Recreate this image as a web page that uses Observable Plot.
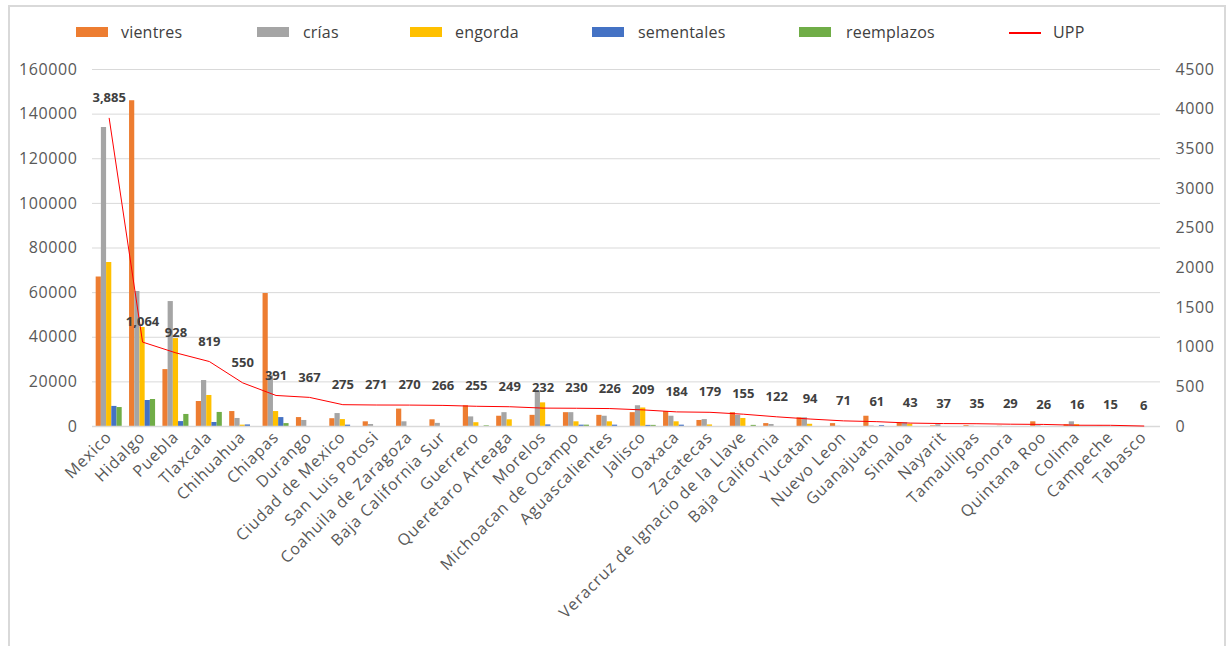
<!DOCTYPE html>
<html>
<head>
<meta charset="utf-8">
<script src="https://cdn.jsdelivr.net/npm/d3@7"></script>
<script src="https://cdn.jsdelivr.net/npm/@observablehq/plot@0.6"></script>
<style>
  html, body { margin: 0; padding: 0; background: #fff; }
  #wrap { position: relative; width: 1228px; height: 646px; overflow: hidden; font-family: "Open Sans", sans-serif; }
  #frame { position: absolute; left: 8px; top: 5px; width: 1218px; height: 660px; border: 2px solid #d9d9d9; box-sizing: border-box; }
  #legend { position: relative; height: 52px; }
  .li { position: absolute; top: 21px; font-size: 16px; color: #404040; line-height: 22px; letter-spacing: 0.2px; }
  .sw { position: absolute; top: 27px; width: 32px; height: 10px; }
  .ln { position: absolute; top: 32px; width: 32px; height: 1.5px; background: #ff0000; }
  #chart { position: relative; }
  #chart svg g[aria-label="x-axis tick label"] text { letter-spacing: 0.9px; }
  #chart svg g[aria-label="y-axis tick label"] text { letter-spacing: 0.6px; }
</style>
</head>
<body>
<div id="wrap">
  <div id="frame"></div>
  <div id="legend"></div>
  <div id="chart"></div>
</div>
<script>
const states = ["Mexico","Hidalgo","Puebla","Tlaxcala","Chihuahua","Chiapas","Durango","Ciudad de Mexico","San Luis Potosi","Coahuila de Zaragoza","Baja California Sur","Guerrero","Queretaro Arteaga","Morelos","Michoacan de Ocampo","Aguascalientes","Jalisco","Oaxaca","Zacatecas","Veracruz de Ignacio de la Llave","Baja California","Yucatan","Nuevo Leon","Guanajuato","Sinaloa","Nayarit","Tamaulipas","Sonora","Quintana Roo","Colima","Campeche","Tabasco"];

const vientres   = [67000,146000,25500,11200,6700,59600,4000,3500,2100,7800,3000,9300,4600,5000,6200,5000,6200,6700,2700,6200,1300,3900,1300,4600,1700,300,400,100,2100,800,100,0];
const crias      = [134000,60500,56000,20600,3600,22800,2700,5800,900,2100,1400,4300,6200,15500,6200,4600,9300,4600,3100,5000,900,3900,100,200,1700,800,100,0,300,2100,0,0];
const engorda    = [73500,44400,39400,13900,600,6700,0,3100,0,0,0,1700,3000,10600,2100,2100,8300,2100,700,3600,0,1000,0,0,1000,0,0,0,0,800,0,0];
const sementales = [9000,11650,2200,1800,700,4000,0,600,0,0,0,0,0,700,600,600,500,600,0,0,0,0,0,400,0,0,0,0,0,0,0,0];
const reemplazos = [8500,12100,5400,6300,0,1300,0,0,0,0,0,300,0,0,600,0,500,0,0,500,0,0,0,0,0,0,0,0,0,0,0,0];
const upp = [3885,1064,928,819,550,391,367,275,271,270,266,255,249,232,230,226,209,184,179,155,122,94,71,61,43,37,35,29,26,16,15,6];

const seriesNames = ["vientres","crías","engorda","sementales","reemplazos"];
const seriesColors = ["#ED7D31","#A5A5A5","#FFC000","#4472C4","#70AD47"];
const seriesValues = [vientres, crias, engorda, sementales, reemplazos];

const leftTicks = [0,20000,40000,60000,80000,100000,120000,140000,160000];
const rightTicks = [0,500,1000,1500,2000,2500,3000,3500,4000,4500];
const K = 160000 / 4500;

// legend
const legend = document.getElementById("legend");
const legendPos = [[76,121],[257,303],[410,455],[592,638],[799,846]];
seriesNames.forEach((n, i) => {
  const sw = document.createElement("div");
  sw.className = "sw"; sw.style.left = legendPos[i][0] + "px"; sw.style.background = seriesColors[i];
  legend.appendChild(sw);
  const t = document.createElement("div");
  t.className = "li"; t.style.left = legendPos[i][1] + "px"; t.textContent = n;
  legend.appendChild(t);
});
{
  const l = document.createElement("div"); l.className = "ln"; l.style.left = "1009px"; legend.appendChild(l);
  const t = document.createElement("div"); t.className = "li"; t.style.left = "1053px"; t.textContent = "UPP"; legend.appendChild(t);
}

const W = 1228, H = 594, mL = 92, mR = 68, mT = 17, mB = 220;
const bandW = (W - mL - mR) / states.length;
const barW = bandW * 0.78 / 5;
const pad0 = (bandW - barW * 5) / 2;

const upRows = states.map((s, i) => ({state: s, upp: upp[i]}));

const barMarks = seriesValues.map((vals, j) =>
  Plot.barY(states.map((s, i) => ({state: s, value: vals[i]})), {
    x: "state", y: "value", fill: seriesColors[j],
    insetLeft: pad0 + j * barW,
    insetRight: bandW - pad0 - (j + 1) * barW
  })
);

const chart = Plot.plot({
  width: W, height: H,
  marginLeft: mL, marginRight: mR, marginTop: mT, marginBottom: mB,
  style: {fontFamily: "'Open Sans', sans-serif", fontSize: "16px", background: "transparent"},
  x: {domain: states, padding: 0, round: false, label: null},
  y: {domain: [0, 160000], label: null},
  marks: [
    Plot.gridY(leftTicks.slice(1), {stroke: "#d9d9d9", strokeOpacity: 1, strokeWidth: 1}),
    ...barMarks,
    Plot.ruleY([0], {stroke: "#d9d9d9", strokeWidth: 1.5}),
    Plot.lineY(upRows, {x: "state", y: d => d.upp * K, stroke: "#ff0000", strokeWidth: 1}),
    Plot.text(upRows, {x: "state", y: d => d.upp * K, text: d => d3.format(",")(d.upp), dy: -20,
      fontWeight: "bold", fontSize: 13, fill: "#404040"}),
    Plot.axisY({anchor: "left", ticks: leftTicks, tickFormat: d => String(d), tickSize: 0, tickPadding: 15,
      color: "#595959", fontSize: 16, label: null}),
    Plot.axisY({anchor: "right", ticks: rightTicks.map(v => v * K), tickFormat: d => String(Math.round(d / K)),
      tickSize: 0, tickPadding: 15, color: "#595959", fontSize: 16, label: null}),
    Plot.axisX({tickRotate: -45, tickSize: 0, tickPadding: 8, color: "#595959", fontSize: 16, label: null})
  ]
});
document.getElementById("chart").appendChild(chart);
</script>
</body>
</html>
